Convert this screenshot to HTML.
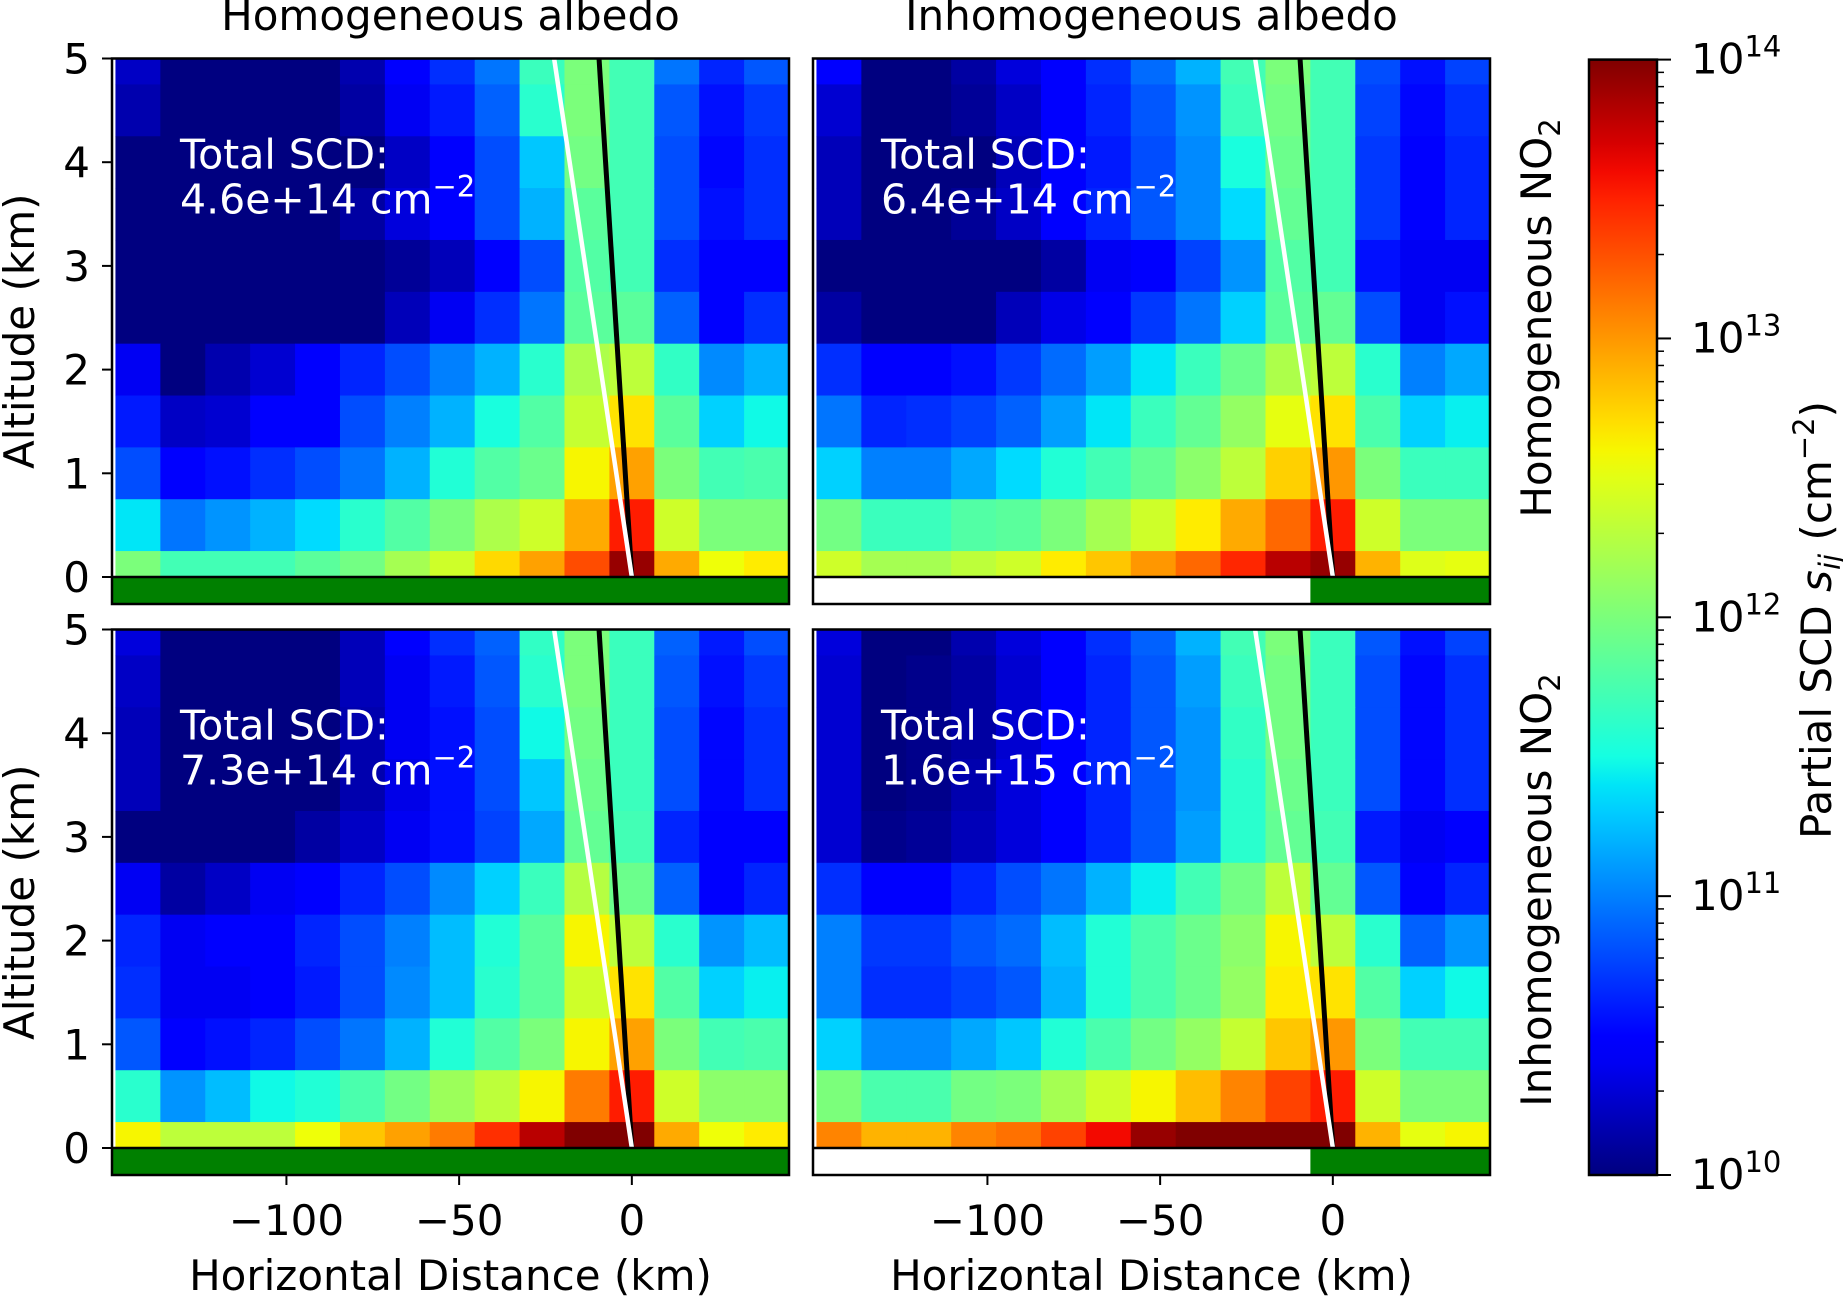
<!DOCTYPE html>
<html><head><meta charset="utf-8"><style>
html,body{margin:0;padding:0;background:#fff;}
svg{display:block;font-family:"DejaVu Sans","Liberation Sans",sans-serif;}
</style></head><body>
<svg id="fig" width="1843" height="1299" viewBox="0 0 1843 1299" xmlns="http://www.w3.org/2000/svg"></svg>
<script>
// ---- data (log10 of partial SCD, cm^-2); rows from altitude 5 km down to 0 km ----
const xCenters = [-143,-130,-117,-104,-91,-78,-65,-52,-39,-26,-13,0,13,26,39];
const altitudes = [5,4.5,4,3.5,3,2.5,2,1.5,1,0.5,0];
const homAlbHomNO2 = [
[10.24,10,10,10,10,10.16,10.48,10.68,10.96,11.68,12,11.72,10.96,10.64,10.84],
[10.16,10,10,10,10,10.12,10.4,10.6,10.88,11.6,12,11.72,10.84,10.56,10.72],
[10,10,10,10,10,10,10.24,10.48,10.8,11.28,11.96,11.72,10.8,10.52,10.68],
[10,10,10,10,10,10.12,10.32,10.48,10.8,11.2,11.84,11.72,10.8,10.56,10.68],
[10,10,10,10,10,10,10.08,10.2,10.48,10.8,11.8,11.72,10.68,10.48,10.48],
[10,10,10,10,10,10,10.2,10.4,10.68,10.96,11.84,11.84,10.88,10.48,10.68],
[10.4,10,10.16,10.28,10.44,10.64,10.8,11,11.2,11.6,12.24,12.32,11.64,11.04,11.2],
[10.6,10.24,10.28,10.44,10.48,10.8,11,11.2,11.52,11.8,12.36,12.68,11.84,11.32,11.48],
[10.8,10.48,10.56,10.68,10.8,10.96,11.2,11.56,11.8,11.92,12.6,12.96,12,11.72,11.76],
[11.4,10.96,11.08,11.2,11.36,11.6,11.8,12,12.24,12.4,12.92,13.52,12.4,12,12],
[12,11.72,11.72,11.72,11.84,11.96,12.2,12.4,12.72,12.96,13.32,13.92,12.92,12.56,12.64]];
const inhomAlbHomNO2 = [
[10.48,10,10,10.12,10.32,10.48,10.68,10.92,11.2,11.72,12,11.72,10.8,10.56,10.76],
[10.28,10,10,10.08,10.24,10.48,10.64,10.84,11.08,11.68,11.96,11.72,10.76,10.52,10.68],
[10.2,10,10,10,10.2,10.44,10.6,10.8,11.04,11.52,11.92,11.72,10.72,10.48,10.64],
[10.2,10,10,10.08,10.24,10.48,10.64,10.84,11.04,11.36,11.88,11.72,10.72,10.48,10.64],
[10,10,10,10,10,10.12,10.4,10.48,10.76,11.08,11.8,11.72,10.56,10.4,10.4],
[10.12,10,10,10,10.2,10.36,10.48,10.72,10.96,11.32,11.84,11.88,10.8,10.4,10.56],
[10.68,10.48,10.44,10.56,10.72,10.92,11.12,11.4,11.68,11.92,12.24,12.32,11.6,11,11.16],
[10.96,10.64,10.68,10.76,10.88,11.12,11.4,11.68,11.88,12.12,12.52,12.68,11.76,11.32,11.44],
[11.32,11,11,11.16,11.36,11.56,11.72,11.88,12.08,12.32,12.76,13,12,11.68,11.68],
[11.96,11.68,11.68,11.8,11.84,12,12.2,12.4,12.64,12.92,13.2,13.52,12.4,12,12],
[12.4,12.2,12.2,12.32,12.4,12.64,12.8,13,13.2,13.48,13.8,13.92,12.88,12.48,12.52]];
const homAlbInhomNO2 = [
[10.32,10,10,10,10,10.2,10.48,10.68,10.88,11.64,12,11.68,10.88,10.6,10.8],
[10.24,10,10,10,10,10.2,10.4,10.6,10.84,11.6,12,11.68,10.84,10.56,10.72],
[10.2,10,10,10,10,10.16,10.4,10.56,10.8,11.48,11.96,11.68,10.8,10.52,10.68],
[10.2,10,10,10,10,10.16,10.36,10.56,10.8,11.28,11.92,11.68,10.8,10.52,10.68],
[10,10,10,10,10.12,10.24,10.4,10.56,10.76,11.16,11.88,11.72,10.64,10.48,10.44],
[10.4,10.12,10.24,10.4,10.48,10.64,10.8,11.04,11.32,11.68,12.28,11.92,10.88,10.48,10.64],
[10.64,10.4,10.44,10.44,10.64,10.8,11,11.24,11.56,11.84,12.6,12.32,11.6,11.08,11.24],
[10.68,10.4,10.4,10.44,10.6,10.8,11.04,11.24,11.6,11.84,12.4,12.68,11.8,11.32,11.44],
[10.84,10.48,10.56,10.64,10.8,10.96,11.2,11.56,11.8,12,12.6,12.96,12,11.72,11.76],
[11.6,11.08,11.24,11.48,11.56,11.76,11.96,12.16,12.32,12.6,13.12,13.52,12.4,12.08,12.08],
[12.6,12.32,12.32,12.32,12.56,12.8,12.96,13.12,13.44,13.8,14,14,12.92,12.56,12.64]];
const inhomAlbInhomNO2 = [
[10.32,10,10,10.16,10.32,10.48,10.68,10.88,11.2,11.72,12,11.68,10.84,10.56,10.76],
[10.28,10,10.04,10.12,10.28,10.48,10.64,10.84,11.12,11.68,11.96,11.68,10.8,10.52,10.68],
[10.28,10,10.04,10.12,10.28,10.48,10.64,10.84,11.08,11.64,11.96,11.68,10.8,10.52,10.68],
[10.28,10,10.04,10.16,10.32,10.48,10.64,10.84,11.08,11.6,11.92,11.68,10.8,10.52,10.68],
[10.28,10.04,10.08,10.2,10.32,10.48,10.64,10.84,11.12,11.6,11.88,11.72,10.6,10.4,10.48],
[10.68,10.48,10.48,10.64,10.8,10.96,11.2,11.44,11.72,11.96,12.32,11.88,10.84,10.48,10.64],
[11,10.72,10.72,10.84,10.92,11.24,11.56,11.76,11.92,12.08,12.6,12.32,11.6,10.88,11.08],
[11,10.68,10.68,10.76,10.84,11.2,11.56,11.76,11.92,12.12,12.64,12.68,11.8,11.32,11.48],
[11.32,11.04,11.04,11.16,11.28,11.56,11.76,11.96,12.12,12.36,12.8,13,12,11.72,11.72],
[12,11.76,11.76,11.96,12,12.2,12.4,12.6,12.84,13.08,13.36,13.52,12.4,12,12],
[13.08,12.88,12.88,13.08,13.16,13.36,13.6,13.92,14,14,14,14,12.88,12.52,12.6]];
const totalSCD = ["4.6e+14","6.4e+14","7.3e+14","1.6e+15"];
const sunLineTopX = [-9.5,-22.5];   // km at 5 km altitude (black, white), both from 0 at ground
const greenStart = [-150.5,-6.5,-150.5,-6.5];
const xTicks = [-100,-50,0];
const yTicks = [0,1,2,3,4,5];
const cbMajor = [10,11,12,13,14];

// ---- helpers ----
const NS="http://www.w3.org/2000/svg";
const svg=document.getElementById('fig');
function mk(tag,attrs,parent){const e=document.createElementNS(NS,tag);for(const k in attrs)e.setAttribute(k,attrs[k]);(parent||svg).appendChild(e);return e;}
function interp(pts,t){for(let i=1;i<pts.length;i++){if(t<=pts[i][0]){const a=pts[i-1],b=pts[i];return a[1]+(b[1]-a[1])*(t-a[0])/(b[0]-a[0]);}}return pts[pts.length-1][1];}
const R=[[0,0],[0.35,0],[0.66,1],[0.89,1],[1,0.5]],G=[[0,0],[0.125,0],[0.375,1],[0.64,1],[0.91,0],[1,0]],B=[[0,0.5],[0.11,1],[0.34,1],[0.65,0],[1,0]];
function jet(t){t=Math.max(0,Math.min(1,t));return `rgb(${Math.round(255*interp(R,t))},${Math.round(255*interp(G,t))},${Math.round(255*interp(B,t))})`;}
function colorOf(v){return jet((v-10)/4);}

const FS=42;
const PW=677, PH=518.5, GH=27, XMIN=-150.5, XMAX=45.5, KM=PW/(XMAX-XMIN);
const panels=[{x:112,y:58.5,d:homAlbHomNO2},{x:813,y:58.5,d:inhomAlbHomNO2},{x:112,y:629.5,d:homAlbInhomNO2},{x:813,y:629.5,d:inhomAlbInhomNO2}];

panels.forEach((p,pi)=>{
  const g=mk('g',{});
  
  
  const xs=km=>p.x+(km-XMIN)*KM;
  const ys=a=>p.y+(5-a)*PH/5;
  const hm=mk('g',{},g);
  
  
  altitudes.forEach((a,ri)=>{
    const top=Math.min(5,a+0.25), bot=Math.max(0,a-0.25);
    xCenters.forEach((c,ci)=>{
      const x0=Math.max(XMIN,c-6.5), x1=Math.min(XMAX,c+6.5);
      const r=mk('rect',{x:xs(x0),y:ys(top),width:xs(x1)-xs(x0)+0.6,height:ys(bot)-ys(top)+0.6,fill:colorOf(p.d[ri][ci])},hm);
      
      
    });
  });
  const gw=mk('rect',{x:p.x,y:p.y+PH,width:PW,height:GH,fill:'#ffffff'},g);
  
  
  const gs=mk('rect',{x:xs(greenStart[pi]),y:p.y+PH,width:p.x+PW-xs(greenStart[pi]),height:GH,fill:'#008000'},g);
  
  
  const bl=mk('line',{x1:xs(0),y1:ys(0),x2:xs(sunLineTopX[0]),y2:ys(5),stroke:'#000',"stroke-width":5},g);
  
  
  const wl=mk('line',{x1:xs(0),y1:ys(0),x2:xs(sunLineTopX[1]),y2:ys(5),stroke:'#fff',"stroke-width":4.5},g);
  
  
  const zl=mk('line',{x1:p.x,y1:ys(0),x2:p.x+PW,y2:ys(0),stroke:'#000',"stroke-width":2.5},g);
  
  
  const fr=mk('rect',{x:p.x,y:p.y,width:PW,height:PH+GH,fill:'none',stroke:'#000',"stroke-width":2.5},g);
  
  
  const t1=mk('text',{x:p.x+68,y:p.y+110,fill:'#fff',"font-size":41},g);
  t1.textContent='Total SCD:';
  
  
  const t2=mk('text',{x:p.x+68,y:p.y+155,fill:'#fff',"font-size":41},g);
  
  
  const s1=mk('tspan',{},t2); s1.textContent=totalSCD[pi]+' cm';
  const s2=mk('tspan',{dy:-17,"font-size":29},t2); s2.textContent='\u22122';
  if(pi%2===0){
    yTicks.forEach(v=>{
      const tk=mk('line',{x1:p.x-10,y1:ys(v),x2:p.x,y2:ys(v),stroke:'#000',"stroke-width":2},g);
      
      
      const tl=mk('text',{x:p.x-22,y:ys(v)+15,"text-anchor":'end',"font-size":FS},g);
      tl.textContent=v;
      
      
    });
    const yt=mk('text',{x:0,y:0,"text-anchor":'middle',"font-size":FS,transform:`translate(34,${p.y+PH/2+GH/2}) rotate(-90)`},g);
    yt.textContent='Altitude (km)';
    
    
  }
  if(pi>=2){
    const yb=p.y+PH+GH;
    xTicks.forEach(v=>{
      const tk=mk('line',{x1:xs(v),y1:yb,x2:xs(v),y2:yb+10,stroke:'#000',"stroke-width":2},g);
      
      
      const tl=mk('text',{x:xs(v),y:yb+60,"text-anchor":'middle',"font-size":FS},g);
      tl.textContent=v<0?'\u2212'+Math.abs(v):String(v);
      
      
    });
    const xt=mk('text',{x:p.x+PW/2,y:1290,"text-anchor":'middle',"font-size":FS},g);
    xt.textContent='Horizontal Distance (km)';
    
    
  } else {
    const tt=mk('text',{x:p.x+PW/2,y:30,"text-anchor":'middle',"font-size":FS},g);
    tt.textContent=pi===0?'Homogeneous albedo':'Inhomogeneous albedo';
    
    
  }
});

[['Homogeneous NO',318],['Inhomogeneous NO',890]].forEach(([s,cy])=>{
  const t=mk('text',{x:0,y:0,"text-anchor":'middle',"font-size":FS,transform:`translate(1551,${cy}) rotate(-90)`});
  
  
  const a=mk('tspan',{},t); a.textContent=s;
  const b=mk('tspan',{dy:9,"font-size":29},t); b.textContent='2';
});

const CBX=1589, CBW=68, CBT=59.6, CBB=1175;
const defs=mk('defs',{});
const lg=mk('linearGradient',{id:'jetg',x1:0,y1:1,x2:0,y2:0},defs);
for(let i=0;i<=40;i++){mk('stop',{offset:i/40,"stop-color":jet(i/40)},lg);}
const cb=mk('rect',{x:CBX,y:CBT,width:CBW,height:CBB-CBT,fill:'url(#jetg)',stroke:'#000',"stroke-width":2.5});


const cy=v=>CBB-(v-10)/4*(CBB-CBT);
cbMajor.forEach((e,i)=>{
  const tk=mk('line',{x1:CBX+CBW,y1:cy(e),x2:CBX+CBW+14,y2:cy(e),stroke:'#000',"stroke-width":2});
  
  
  const tl=mk('text',{x:CBX+CBW+34,y:cy(e)+14,"font-size":FS});
  
  
  const a=mk('tspan',{},tl); a.textContent='10';
  const b=mk('tspan',{dy:-17,"font-size":29},tl); b.textContent=String(e);
  if(i<cbMajor.length-1){
    for(let m=2;m<=9;m++){
      const mt=mk('line',{x1:CBX+CBW,y1:cy(e+Math.log10(m)),x2:CBX+CBW+7,y2:cy(e+Math.log10(m)),stroke:'#000',"stroke-width":1.5});
      
      
    }
  }
});
const cl=mk('text',{x:0,y:0,"text-anchor":'middle',"font-size":FS,transform:'translate(1831,620) rotate(-90)'});


const c1=mk('tspan',{},cl); c1.textContent='Partial SCD ';
const c2=mk('tspan',{"font-style":'italic'},cl); c2.textContent='s';
const c3=mk('tspan',{dy:9,"font-size":29,"font-style":'italic'},cl); c3.textContent='ij';
const c4=mk('tspan',{dy:-9},cl); c4.textContent=' (cm';
const c5=mk('tspan',{dy:-17,"font-size":29},cl); c5.textContent='\u22122';
const c6=mk('tspan',{dy:17},cl); c6.textContent=')';
</script>
</body></html>
